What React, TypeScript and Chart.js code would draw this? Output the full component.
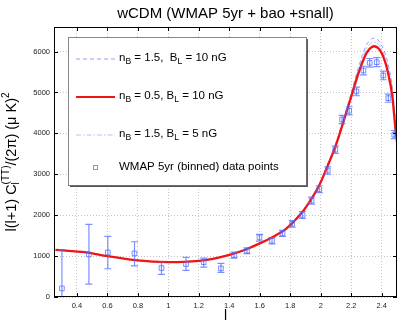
import React, { useEffect, useRef } from 'react';
import { Chart, registerables } from 'chart.js';
Chart.register(...registerables);

const FONT = '"Liberation Sans", Arial, Helvetica, sans-serif';

const titleText = 'wCDM (WMAP 5yr + bao +snall)';
const xAxisLabel = 'l';

const xTickValues = [0.4, 0.6, 0.8, 1.0, 1.2, 1.4, 1.6, 1.8, 2.0, 2.2, 2.4];
const yTickValues = [0, 1000, 2000, 3000, 4000, 5000, 6000];

// theory curves (x = log10 l)
const curveX = [0.26, 0.46, 0.6, 0.78, 1.0, 1.1, 1.2, 1.3, 1.4, 1.5, 1.6, 1.7, 1.77, 1.86, 1.92, 1.99, 2.05, 2.1, 2.15, 2.2, 2.25, 2.3, 2.35, 2.4, 2.44, 2.47, 2.49, 2.5];
const redY = [1150, 1090, 1000, 902, 854, 860, 885, 940, 1030, 1150, 1310, 1500, 1660, 1990, 2290, 2730, 3250, 3720, 4300, 4900, 5500, 5960, 6130, 5960, 5500, 4885, 4100, 3800];
const dashedY = [1150, 1090, 1000, 902, 854, 860, 885, 940, 1030, 1150, 1310, 1505, 1668, 2000, 2305, 2755, 3290, 3770, 4370, 5000, 5650, 6160, 6330, 6150, 5720, 5100, 4300, 3950];
const dashDotY = [1150, 1090, 1000, 902, 854, 860, 885, 940, 1030, 1150, 1310, 1502, 1664, 1995, 2298, 2742, 3270, 3745, 4335, 4950, 5580, 6070, 6230, 6060, 5620, 5000, 4200, 3880];

// WMAP 5yr binned data
const dataX = [0.302, 0.479, 0.603, 0.778, 0.955, 1.116, 1.232, 1.345, 1.431, 1.516, 1.598, 1.68, 1.749, 1.812, 1.88, 1.94, 1.99, 2.046, 2.095, 2.14, 2.186, 2.234, 2.28, 2.321, 2.367, 2.41, 2.443, 2.482];
const dataY = [210, 1040, 1090, 1065, 707, 805, 850, 700, 1024, 1130, 1456, 1373, 1553, 1790, 2005, 2355, 2634, 3090, 3600, 4341, 4550, 5024, 5537, 5724, 5740, 5415, 4861, 3968];
const errLow = [-700, 317, 690, 763, 553, 650, 731, 602, 950, 1060, 1366, 1300, 1480, 1710, 1920, 2270, 2550, 3000, 3510, 4240, 4450, 4920, 5430, 5620, 5630, 5310, 4760, 3870];
const errHigh = [1150, 1773, 1480, 1350, 862, 968, 951, 821, 1100, 1200, 1529, 1450, 1630, 1870, 2090, 2440, 2720, 3180, 3690, 4440, 4650, 5130, 5640, 5830, 5850, 5520, 4960, 4070];

const legendRows = [
  [{ t: 'n' }, { t: 'B', sub: true }, { t: ' = 1.5,  B' }, { t: 'L', sub: true }, { t: ' = 10 nG' }],
  [{ t: 'n' }, { t: 'B', sub: true }, { t: ' = 0.5, B' }, { t: 'L', sub: true }, { t: ' = 10 nG' }],
  [{ t: 'n' }, { t: 'B', sub: true }, { t: ' = 1.5, B' }, { t: 'L', sub: true }, { t: ' = 5 nG' }],
  [{ t: 'WMAP 5yr (binned) data points' }],
];

const RED = 'rgb(240,20,20)';
const BLUE_DASH = 'rgba(110,130,255,0.75)';
const BLUE_DOT = 'rgba(150,165,255,0.7)';
const BLUE_PT = 'rgba(80,105,255,0.75)';

type Seg = { t: string; sub?: boolean; sup?: boolean };

function drawSegs(ctx: CanvasRenderingContext2D, segs: Seg[], x: number, y: number, size: number) {
  let cx = x;
  for (const s of segs) {
    if (s.sub) {
      ctx.font = `${size * 0.75}px ${FONT}`;
      ctx.fillText(s.t, cx, y + size * 0.35);
    } else {
      ctx.font = `${size}px ${FONT}`;
      ctx.fillText(s.t, cx, y);
    }
    cx += ctx.measureText(s.t).width;
  }
}

const customPlugin = {
  id: 'customDraw',
  beforeDraw(chart: any) {
    const ctx = chart.ctx as CanvasRenderingContext2D;
    ctx.save();
    ctx.fillStyle = '#fff';
    ctx.fillRect(0, 0, chart.width, chart.height);
    ctx.restore();
  },
  afterDatasetsDraw(chart: any) {
    const ctx = chart.ctx as CanvasRenderingContext2D;
    const xs = chart.scales.x;
    const ys = chart.scales.y;
    const a = chart.chartArea;

    // error bars
    ctx.save();
    ctx.beginPath();
    ctx.rect(a.left, a.top, a.right - a.left, a.bottom - a.top);
    ctx.clip();
    ctx.strokeStyle = BLUE_PT;
    ctx.lineWidth = 1.2;
    for (let i = 0; i < dataX.length; i++) {
      const px = xs.getPixelForValue(dataX[i]);
      const pl = ys.getPixelForValue(errLow[i]);
      const ph = ys.getPixelForValue(errHigh[i]);
      ctx.beginPath();
      ctx.moveTo(px, pl);
      ctx.lineTo(px, ph);
      ctx.moveTo(px - 3.5, pl);
      ctx.lineTo(px + 3.5, pl);
      ctx.moveTo(px - 3.5, ph);
      ctx.lineTo(px + 3.5, ph);
      ctx.stroke();
    }
    ctx.restore();

    // box and inward ticks
    ctx.save();
    ctx.strokeStyle = '#000';
    ctx.lineWidth = 1;
    ctx.strokeRect(a.left + 0.5, a.top + 0.5, a.right - a.left - 1, a.bottom - a.top - 1);
    ctx.beginPath();
    for (const v of xTickValues) {
      const px = Math.round(xs.getPixelForValue(v)) + 0.5;
      ctx.moveTo(px, a.bottom);
      ctx.lineTo(px, a.bottom - 4);
      ctx.moveTo(px, a.top);
      ctx.lineTo(px, a.top + 4);
    }
    for (const v of yTickValues) {
      const py = Math.round(ys.getPixelForValue(v)) + 0.5;
      ctx.moveTo(a.left, py);
      ctx.lineTo(a.left + 4, py);
      ctx.moveTo(a.right, py);
      ctx.lineTo(a.right - 4, py);
    }
    ctx.stroke();
    ctx.restore();

    // legend
    ctx.save();
    const lx = 68, ly = 37, lw = 238, lh = 148;
    ctx.fillStyle = '#fff';
    ctx.fillRect(lx, ly, lw, lh);
    ctx.strokeStyle = '#888';
    ctx.lineWidth = 1;
    ctx.strokeRect(lx + 0.5, ly + 0.5, lw, lh);
    ctx.strokeStyle = '#555';
    ctx.lineWidth = 1.5;
    ctx.beginPath();
    ctx.moveTo(lx + lw + 1.2, ly + 2);
    ctx.lineTo(lx + lw + 1.2, ly + lh + 1.2);
    ctx.lineTo(lx + 2, ly + lh + 1.2);
    ctx.stroke();

    const rowsY = [59, 97, 135, 168];
    const sx0 = 76, sx1 = 115;
    ctx.lineWidth = 1;
    ctx.strokeStyle = BLUE_DASH;
    ctx.setLineDash([4, 3]);
    ctx.beginPath(); ctx.moveTo(sx0, rowsY[0]); ctx.lineTo(sx1, rowsY[0]); ctx.stroke();
    ctx.setLineDash([]);
    ctx.strokeStyle = RED;
    ctx.lineWidth = 2.2;
    ctx.beginPath(); ctx.moveTo(sx0, rowsY[1]); ctx.lineTo(sx1, rowsY[1]); ctx.stroke();
    ctx.lineWidth = 1;
    ctx.strokeStyle = BLUE_DOT;
    ctx.setLineDash([5, 2, 1.5, 2]);
    ctx.beginPath(); ctx.moveTo(sx0, rowsY[2]); ctx.lineTo(sx1, rowsY[2]); ctx.stroke();
    ctx.setLineDash([]);
    ctx.strokeStyle = BLUE_PT;
    ctx.lineWidth = 1;
    ctx.strokeRect(93.5, rowsY[3] - 2.5, 4, 4);

    ctx.fillStyle = '#000';
    ctx.textBaseline = 'middle';
    ctx.textAlign = 'left';
    legendRows.forEach((segs, i) => drawSegs(ctx, segs as Seg[], 119, rowsY[i] - 1, 11.5));
    ctx.restore();

    // title
    ctx.save();
    ctx.fillStyle = '#000';
    ctx.font = `15px ${FONT}`;
    ctx.textAlign = 'center';
    ctx.textBaseline = 'middle';
    ctx.fillText(titleText, (a.left + a.right) / 2, 14);
    ctx.font = `14px ${FONT}`;
    ctx.textBaseline = 'alphabetic';
    ctx.fillText(xAxisLabel, (a.left + a.right) / 2, 320);
    ctx.restore();

    // y label with sub/superscripts
    ctx.save();
    ctx.fillStyle = '#000';
    ctx.textAlign = 'left';
    ctx.textBaseline = 'alphabetic';
    const big = 14.5, small = 10;
    const parts: { t: string; size: number; dy: number; stack?: boolean }[] = [
      { t: 'l(l+1) C', size: big, dy: 0 },
      { t: 'l', size: small, dy: 3.5, stack: true },
      { t: '(TT)', size: small, dy: -7 },
      { t: '/(2\u03c0) (\u03bc K)', size: big, dy: 0 },
      { t: '2', size: small, dy: -7 },
    ];
    let total = 0;
    const widths = parts.map(p => { ctx.font = `${p.size}px ${FONT}`; return ctx.measureText(p.t).width; });
    parts.forEach((p, i) => { if (!p.stack) total += widths[i]; });
    ctx.translate(15.5, (a.top + a.bottom) / 2);
    ctx.rotate(-Math.PI / 2);
    let cx = -total / 2;
    parts.forEach((p, i) => {
      ctx.font = `${p.size}px ${FONT}`;
      ctx.fillText(p.t, cx, p.dy);
      if (!p.stack) cx += widths[i];
    });
    ctx.restore();
  },
};

export default function App() {
  const ref = useRef<HTMLCanvasElement>(null);
  useEffect(() => {
    const canvas = ref.current!;
    const line = (ys: number[]) => curveX.map((x, i) => ({ x, y: ys[i] }));
    const chart = new Chart(canvas, {
      type: 'line',
      data: {
        datasets: [
          {
            label: 'WMAP 5yr (binned) data points',
            data: dataX.map((x, i) => ({ x, y: dataY[i] })),
            showLine: false,
            pointStyle: 'rect',
            pointRadius: 3.3,
            pointBorderWidth: 1,
            pointBorderColor: BLUE_PT,
            pointBackgroundColor: 'rgba(0,0,0,0)',
            borderColor: BLUE_PT,
          },
          {
            label: 'nB = 0.5, BL = 10 nG',
            data: line(redY),
            borderColor: RED,
            borderWidth: 2.3,
            pointRadius: 0,
            cubicInterpolationMode: 'monotone',
          },
          {
            label: 'nB = 1.5, BL = 5 nG',
            data: line(dashDotY),
            borderColor: BLUE_DOT,
            borderWidth: 1,
            borderDash: [5, 2, 1.5, 2],
            pointRadius: 0,
            cubicInterpolationMode: 'monotone',
          },
          {
            label: 'nB = 1.5, BL = 10 nG',
            data: line(dashedY),
            borderColor: BLUE_DASH,
            borderWidth: 1,
            borderDash: [4, 3],
            pointRadius: 0,
            cubicInterpolationMode: 'monotone',
          },
        ],
      } as any,
      options: {
        animation: false,
        responsive: false,
        devicePixelRatio: 1,
        layout: { padding: { left: 0, top: 27, right: 6, bottom: 0 } },
        plugins: { legend: { display: false }, tooltip: { enabled: false }, title: { display: false } },
        events: [],
        scales: {
          x: {
            type: 'linear',
            min: 0.25,
            max: 2.5,
            afterBuildTicks: (s: any) => { s.ticks = xTickValues.map(v => ({ value: v })); },
            afterFit: (s: any) => { s.height = 30; },
            ticks: {
              callback: (v: any) => String(Number(Number(v).toFixed(2))),
              font: { family: FONT, size: 7.5 },
              color: '#222',
              padding: 4,
              maxRotation: 0,
              autoSkip: false,
            },
            grid: { color: '#c4c4c4', lineWidth: 1, drawTicks: false },
            border: { display: false, dash: [1, 2] },
          },
          y: {
            type: 'linear',
            min: 0,
            max: 6600,
            afterBuildTicks: (s: any) => { s.ticks = yTickValues.map(v => ({ value: v })); },
            afterFit: (s: any) => { s.width = 54; },
            ticks: {
              callback: (v: any) => String(v),
              font: { family: FONT, size: 7.5 },
              color: '#222',
              padding: 4,
            },
            grid: { color: '#c4c4c4', lineWidth: 1, drawTicks: false },
            border: { display: false, dash: [1, 2] },
          },
        },
      } as any,
      plugins: [customPlugin as any],
    });
    return () => chart.destroy();
  }, []);
  return (
    <div style={{ position: 'absolute', left: 0, top: 0, width: 403, height: 327 }}>
      <canvas ref={ref} width={403} height={327} />
    </div>
  );
}
